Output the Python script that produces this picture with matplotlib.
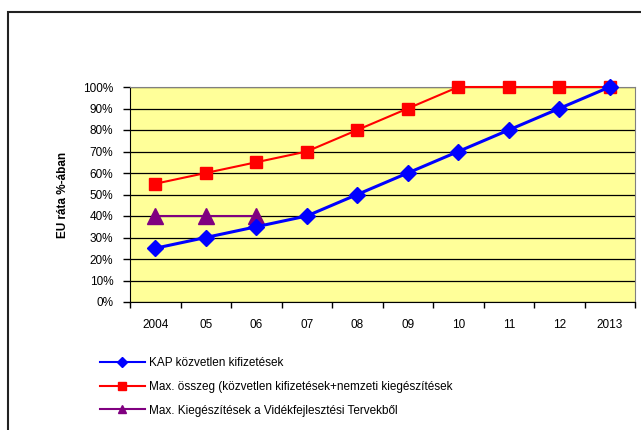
import matplotlib
matplotlib.use("Agg")
import matplotlib.pyplot as plt
from matplotlib.patches import Rectangle
from matplotlib.lines import Line2D

plt.rcParams['font.family'] = ['Liberation Sans', 'DejaVu Sans']

categories = ['2004', '05', '06', '07', '08', '09', '10', '11', '12', '2013']
kap = [25, 30, 35, 40, 50, 60, 70, 80, 90, 100]
max_osszeg = [55, 60, 65, 70, 80, 90, 100, 100, 100, 100]
videk = [40, 40, 40]
labels = ['KAP közvetlen kifizetések',
          'Max. összeg (közvetlen kifizetések+nemzeti kiegészítések',
          'Max. Kiegészítések a Vidékfejlesztési Tervekből']
yticks = list(range(0, 101, 10))

W, H = 641, 430
fig = plt.figure(figsize=(W / 100, H / 100), dpi=100)
fig.patches.append(Rectangle((8 / W, -0.1), 1.2, 1 - 12 / H + 0.1, transform=fig.transFigure,
                             fill=False, edgecolor='#222222', linewidth=1.5, zorder=0))

ax = fig.add_axes([130 / W, 1 - 302 / H, 505 / W, 215 / H])
ax.set_facecolor('#FFFF99')
x = list(range(len(categories)))

ax.plot(x, kap, color='#0000FF', lw=2.2, marker='D', ms=8, clip_on=False, zorder=5)
ax.plot(x, max_osszeg, color='#FF0000', lw=1.5, marker='s', ms=9, clip_on=False, zorder=4)
ax.plot(x[:len(videk)], videk, color='#800080', lw=1.5, marker='^', ms=11, clip_on=False, zorder=4)

ax.set_xlim(-0.5, len(categories) - 0.5)
ax.set_ylim(0, 100)
ax.set_yticks(yticks)
ax.set_yticklabels([f'{v}%' for v in yticks], fontsize=8.5)
ax.set_xticks(x)
ax.set_xticklabels(categories, fontsize=8.5)
ax.set_xticks([i - 0.5 for i in range(len(categories) + 1)], minor=True)
ax.tick_params(axis='x', which='major', length=0, pad=12)
ax.tick_params(axis='x', which='minor', length=4, width=1, color='black', direction='out')
ax.tick_params(axis='y', length=5, width=1, direction='out', pad=7)
ax.yaxis.grid(True, color='black', lw=0.9)
ax.set_axisbelow(True)
for s in ['top', 'right']:
    ax.spines[s].set_color('#808080')
for s in ['left', 'bottom']:
    ax.spines[s].set_color('black')

ax.set_ylabel('EU ráta %-ában', fontsize=8.5, fontweight='bold', labelpad=10)

handles = [
    Line2D([], [], color='#0000FF', lw=1.5, marker='D', ms=5),
    Line2D([], [], color='#FF0000', lw=1.5, marker='s', ms=6),
    Line2D([], [], color='#800080', lw=1.5, marker='^', ms=6),
]
fig.legend(handles, labels, loc='upper left', bbox_to_anchor=(100 / W, 1 - 357 / H), frameon=False,
           fontsize=8.5, handlelength=3.8, handletextpad=0.35, labelspacing=1.0,
           borderpad=0, borderaxespad=0)

fig.savefig('out.png', dpi=100)
